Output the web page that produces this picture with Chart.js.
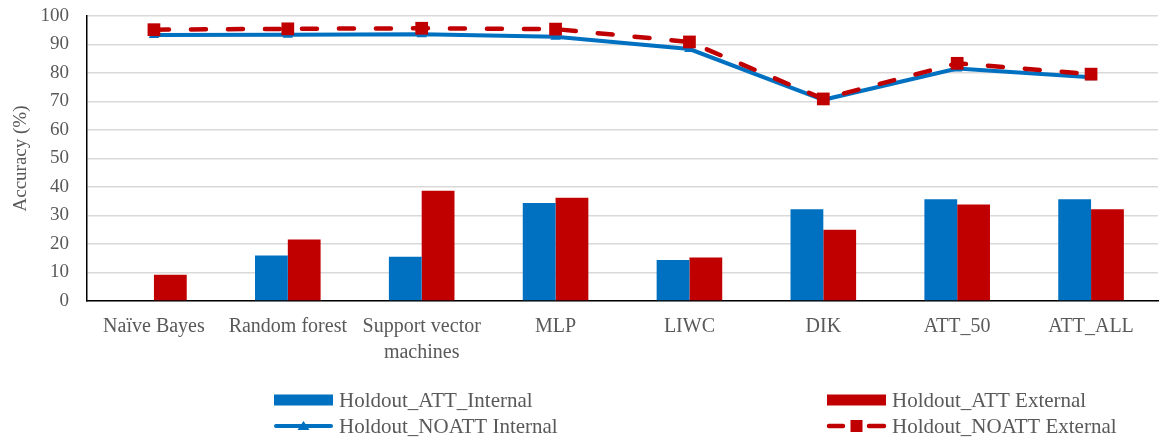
<!DOCTYPE html>
<html>
<head>
<meta charset="utf-8">
<script src="https://cdn.jsdelivr.net/npm/chart.js@4/dist/chart.umd.min.js"></script>
<style>
  html, body { margin: 0; padding: 0; background: #fff; }
  #wrap { width: 1167px; height: 439px; position: relative; }
</style>
</head>
<body>
<div id="wrap"><canvas id="c"></canvas></div>
<script>
// Classifier accuracy (%) by method
const categories = ['Naïve Bayes', 'Random forest', ['Support vector', 'machines'], 'MLP', 'LIWC', 'DIK', 'ATT_50', 'ATT_ALL'];
const attInternal   = [null, 16.0, 15.5, 34.4, 14.4, 32.2, 35.7, 35.7];
const attExternal   = [9.2, 21.6, 38.7, 36.2, 15.3, 25.0, 33.9, 32.2];
const noattInternal = [93.3, 93.4, 93.6, 92.7, 88.4, 70.6, 81.6, 78.5];
const noattExternal = [95.2, 95.5, 95.7, 95.4, 90.9, 70.9, 83.4, 79.6];
const yTicks = { min: 0, max: 100, step: 10 };

const BLUE = '#0070C0';
const RED = '#C00000';
const TEXT = '#595959';
const FONT = 'Liberation Serif';

// Two-column legend drawn under the axis labels
const legendPlugin = {
  id: 'twoColLegend',
  afterDraw(chart) {
    const ctx = chart.ctx;
    const ds = chart.data.datasets;
    const items = [
      { d: ds[2], kind: 'bar',  x: 274, y: 400 },
      { d: ds[3], kind: 'bar',  x: 827, y: 400 },
      { d: ds[0], kind: 'line', x: 274, y: 426 },
      { d: ds[1], kind: 'line', x: 827, y: 426 }
    ];
    ctx.save();
    items.forEach(it => {
      const sw = 59;
      if (it.kind === 'bar') {
        ctx.fillStyle = it.d.backgroundColor;
        ctx.fillRect(it.x, it.y - 5.5, sw, 11);
      } else {
        ctx.strokeStyle = it.d.borderColor;
        ctx.lineWidth = it.d.borderWidth;
        ctx.lineCap = 'round';
        ctx.beginPath();
        if (it.d.borderDash) {
          ctx.moveTo(it.x + 2, it.y); ctx.lineTo(it.x + 16, it.y);
          ctx.moveTo(it.x + 42, it.y); ctx.lineTo(it.x + sw - 2, it.y);
        } else {
          ctx.moveTo(it.x + 2, it.y); ctx.lineTo(it.x + sw - 2, it.y);
        }
        ctx.stroke();
        ctx.fillStyle = it.d.pointBackgroundColor;
        const cx = it.x + sw / 2;
        if (it.d.pointStyle === 'rect') {
          ctx.fillRect(cx - 6, it.y - 6, 12, 12);
        } else {
          ctx.beginPath();
          ctx.moveTo(cx, it.y - 5);
          ctx.lineTo(cx + 6, it.y + 4);
          ctx.lineTo(cx - 6, it.y + 4);
          ctx.closePath();
          ctx.fill();
        }
      }
      ctx.fillStyle = TEXT;
      ctx.font = '21px "' + FONT + '"';
      ctx.textBaseline = 'middle';
      ctx.textAlign = 'left';
      ctx.fillText(it.d.label, it.x + sw + 6, it.y + 1);
    });
    ctx.restore();
  }
};

new Chart(document.getElementById('c'), {
  data: {
    labels: categories,
    datasets: [
      {
        type: 'line', label: 'Holdout_NOATT Internal', data: noattInternal,
        borderColor: BLUE, backgroundColor: BLUE, borderWidth: 4,
        pointStyle: 'triangle', pointRadius: 6, pointBackgroundColor: BLUE, pointBorderWidth: 0,
        tension: 0, order: 1
      },
      {
        type: 'line', label: 'Holdout_NOATT External', data: noattExternal,
        borderColor: RED, backgroundColor: RED, borderWidth: 4.5,
        borderDash: [15, 22], borderCapStyle: 'round',
        pointStyle: 'rect', pointRadius: 9, pointBackgroundColor: RED, pointBorderWidth: 0,
        tension: 0, order: 0
      },
      {
        type: 'bar', label: 'Holdout_ATT_Internal', data: attInternal,
        backgroundColor: BLUE, order: 2
      },
      {
        type: 'bar', label: 'Holdout_ATT External', data: attExternal,
        backgroundColor: RED, order: 2
      }
    ]
  },
  options: {
    responsive: true,
    maintainAspectRatio: false,
    animation: false,
    events: [],
    layout: { padding: { top: 16, right: 7, left: 0, bottom: 0 } },
    datasets: { bar: { categoryPercentage: 0.49, barPercentage: 1.0 } },
    plugins: { legend: { display: false }, tooltip: { enabled: false } },
    scales: {
      x: {
        grid: { display: false, drawTicks: false },
        border: { color: '#000', width: 1.5 },
        ticks: { color: TEXT, font: { family: FONT, size: 20, lineHeight: 1.33 }, padding: 12, maxRotation: 0, autoSkip: false },
        afterFit(scale) { scale.height = 138; }
      },
      y: {
        min: yTicks.min, max: yTicks.max,
        grid: { color: '#d9d9d9', lineWidth: 1.5, drawTicks: false },
        border: { color: '#000', width: 1.5 },
        ticks: { stepSize: yTicks.step, color: TEXT, font: { family: FONT, size: 19 }, padding: 18 },
        title: { display: true, text: 'Accuracy (%)', color: TEXT, font: { family: FONT, size: 19 }, padding: { top: 10, bottom: 0 } },
        afterFit(scale) {
          scale.width = 87;
          scale.paddingTop = 0;
          scale.paddingBottom = 0;
        }
      }
    }
  },
  plugins: [legendPlugin]
});
</script>
</body>
</html>
